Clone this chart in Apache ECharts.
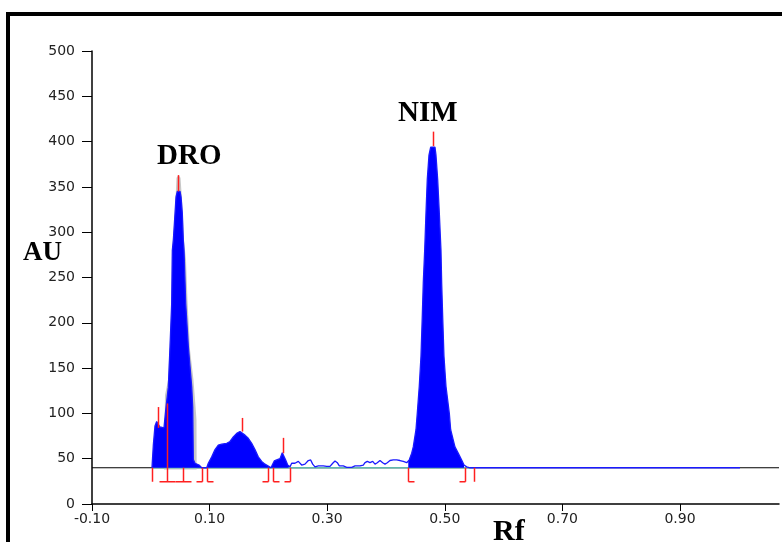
<!DOCTYPE html>
<html>
<head>
<meta charset="utf-8">
<script src="https://cdn.jsdelivr.net/npm/echarts@6/dist/echarts.min.js"></script>
<style>
  html, body { margin: 0; padding: 0; background: #fff; }
  #chart { position: absolute; left: 0; top: 0; width: 782px; height: 542px; }
  .frame { position: absolute; background: #000; }
</style>
</head>
<body>
<div id="chart"></div>
<div class="frame" style="left:6px;top:12px;width:776px;height:4px"></div>
<div class="frame" style="left:6px;top:12px;width:4px;height:530px"></div>
<script>
// densitogram trace (Rf, AU)
const traceRf = [
  0.0020, 0.0043, 0.0071, 0.0100, 0.0128, 0.0156, 0.0190, 0.0224, 0.0259, 0.0298,
  0.0327, 0.0355, 0.0366, 0.0383, 0.0412, 0.0429, 0.0451, 0.0471, 0.0497, 0.0514,
  0.0536, 0.0553, 0.0565, 0.0594, 0.0638, 0.0696, 0.0713, 0.0723, 0.0752, 0.0786,
  0.0820, 0.0866, 0.0905, 0.0951,
  0.0978, 0.1036, 0.1092, 0.1148, 0.1206, 0.1291, 0.1347, 0.1403, 0.1461, 0.1517,
  0.1546, 0.1602, 0.1658, 0.1716, 0.1772, 0.1828, 0.1886, 0.1942, 0.1998, 0.2044,
  0.2066, 0.2100, 0.2141, 0.2168, 0.2197, 0.2236, 0.2265, 0.2294, 0.2328, 0.2367,
  0.2396, 0.2452, 0.2509, 0.2566, 0.2622, 0.2679, 0.2719, 0.2753, 0.2793, 0.2849,
  0.2878, 0.2934, 0.2991, 0.3048, 0.3094, 0.3133, 0.3172, 0.3206, 0.3274, 0.3332,
  0.3417, 0.3473, 0.3558, 0.3614, 0.3643, 0.3682, 0.3728, 0.3774, 0.3813, 0.3852,
  0.3898, 0.3944, 0.3983, 0.4022, 0.4068, 0.4124, 0.4182, 0.4238, 0.4294, 0.4352,
  0.4379, 0.4396, 0.4437, 0.4464, 0.4510, 0.4532, 0.4566, 0.4595, 0.4617, 0.4634,
  0.4658, 0.4680, 0.4702, 0.4731, 0.4760, 0.4794, 0.4833, 0.4850, 0.4879, 0.4907,
  0.4935, 0.4947, 0.4964, 0.4986, 0.5020, 0.5077, 0.5100, 0.5173, 0.5230, 0.5287,
  0.5327, 0.5372, 0.5429, 1.0020
];
const traceAU = [
  40, 65, 86, 91, 88, 85, 83, 84, 107, 129,
  174, 221, 280, 291, 321, 339, 345, 346, 345, 339,
  321, 291, 280, 221, 174, 129, 107, 49, 45, 46,
  43, 40, 40, 40,
  45, 52, 60, 65, 66, 67, 69, 74, 78, 80,
  80, 76, 72.5, 67, 60, 52, 47, 44, 42, 40,
  43, 47.5, 48.6, 47, 50, 56.6, 56, 48.6, 43, 41,
  45, 45, 47, 43, 44, 48, 48.6, 44, 41, 42,
  43, 42, 41.5, 41.5, 45, 47.5, 45.6, 42, 42, 40.5,
  40.5, 42, 42, 43, 45.6, 47, 45.6, 47, 44, 45.6,
  48, 45.6, 44, 45.6, 48, 48.6, 48.6, 48, 47, 45.6,
  47, 48.6, 56, 63, 82, 100, 130, 163, 207, 244,
  280, 321, 358, 385, 394, 395, 394, 385, 358, 321,
  280, 244, 207, 163, 130, 100, 82, 63, 56, 48.6,
  43, 41, 40, 40
];

// grey shadow behind the DRO peak
const shadowRf = [0.0224, 0.0241, 0.0293, 0.0327, 0.0352, 0.0361, 0.0395, 0.0420, 0.0437, 0.0471,
                  0.0505, 0.0531, 0.0565, 0.0599, 0.0624, 0.0667, 0.0726, 0.0752, 0.0777, 0.0780];
const shadowAU = [38, 120, 137, 181, 225, 280, 308, 336, 360, 363,
                  360, 336, 291, 269, 225, 170, 137, 115, 93, 38];

// integrated windows (start, end)
const windowStart = [0.0020, 0.0951, 0.4369];
const windowEnd   = [0.0879, 0.2367, 0.5344];

// peak boundary marks: Rf and foot (-1 left, 1 right, 2 both, 0 none)
const boundRf   = [0.0026, 0.0275, 0.0542, 0.0879, 0.0951, 0.1988, 0.2073, 0.2367, 0.4369, 0.5344, 0.5497];
const boundFoot = [0, 2, 2, -1, 1, -1, 1, -1, 1, -1, 0];

// apex marks: Rf, low AU, high AU
const apexRf   = [0.0128, 0.0275, 0.0468, 0.1546, 0.2253, 0.4794];
const apexLow  = [84, 40, 345, 80, 56, 395];
const apexHigh = [107, 111, 363, 95, 73, 411];

const baselineAU = 40;
const scanStart = 0.0020, scanEnd = 0.5497;
const xMin = -0.1, xMax = 1.0684, xStep = 0.2;
const yMin = 0, yMax = 500, yStep = 50;

const chart = echarts.init(document.getElementById('chart'));

const trace = traceRf.map((r, i) => [r, traceAU[i]]);
const shadow = shadowRf.map((r, i) => [r, shadowAU[i]]);

const fillSeries = windowStart.map((s, k) => ({
  type: 'line',
  data: trace.filter(p => p[0] >= s && p[0] <= windowEnd[k]),
  symbol: 'none',
  lineStyle: { width: 0 },
  areaStyle: { color: '#0000ff', opacity: 1, origin: baselineAU },
  z: 4,
  silent: true
}));

const option = {
  animation: false,
  backgroundColor: '#fff',
  grid: { left: 92, right: 3, top: 51, bottom: 38 },
  xAxis: {
    type: 'value',
    min: xMin,
    max: xMax,
    interval: xStep,
    axisLine: { onZero: false, lineStyle: { color: '#000', width: 1.5 } },
    axisTick: { show: true, length: 7, lineStyle: { color: '#000' } },
    splitLine: { show: false },
    axisLabel: {
      showMaxLabel: false,
      margin: 8,
      color: '#222',
      fontFamily: 'DejaVu Sans',
      fontSize: 14,
      formatter: v => v.toFixed(2)
    }
  },
  yAxis: {
    type: 'value',
    min: yMin,
    max: yMax,
    interval: yStep,
    axisLine: { show: true, onZero: false, lineStyle: { color: '#000', width: 1.5 } },
    axisTick: { show: true, length: 10, lineStyle: { color: '#000' } },
    splitLine: { show: false },
    axisLabel: {
      margin: 17,
      color: '#222',
      fontFamily: 'DejaVu Sans',
      fontSize: 14
    }
  },
  graphic: [
    { type: 'text', left: 23, top: 240, style: { text: 'AU', font: 'bold 27px "Liberation Serif"', fill: '#000' } },
    { type: 'text', left: 157, top: 142, style: { text: 'DRO', font: 'bold 29px "Liberation Serif"', fill: '#000' } },
    { type: 'text', left: 398, top: 99, style: { text: 'NIM', font: 'bold 29px "Liberation Serif"', fill: '#000' } },
    { type: 'text', left: 493, top: 517, style: { text: 'Rf', font: 'bold 30px "Liberation Serif"', fill: '#000' } }
  ],
  series: [
    {
      name: 'baseline',
      type: 'line',
      data: [[xMin, baselineAU], [xMax, baselineAU]],
      symbol: 'none',
      lineStyle: { color: '#000', width: 1 },
      z: 1,
      silent: true
    },
    {
      name: 'shadow',
      type: 'line',
      data: shadow,
      symbol: 'none',
      lineStyle: { width: 0 },
      areaStyle: { color: '#c8c8c8', opacity: 1, origin: 38 },
      z: 2,
      silent: true
    },
    {
      name: 'scan baseline',
      type: 'line',
      data: [[scanStart, baselineAU], [scanEnd, baselineAU]],
      symbol: 'none',
      lineStyle: { color: '#5fb8ae', width: 1.5 },
      z: 3,
      silent: true
    },
    ...fillSeries,
    {
      name: 'trace',
      type: 'line',
      data: trace,
      symbol: 'none',
      lineStyle: { color: '#1a1aff', width: 1.3 },
      z: 5,
      silent: true
    },
    {
      name: 'apex',
      type: 'custom',
      data: apexRf.map((r, i) => [r, apexLow[i], apexHigh[i]]),
      z: 6,
      renderItem: (params, api) => {
        const a = api.coord([api.value(0), api.value(1)]);
        const b = api.coord([api.value(0), api.value(2)]);
        const x = Math.round(a[0]) + 0.5;
        return {
          type: 'line',
          shape: { x1: x, y1: a[1], x2: x, y2: b[1] },
          style: { stroke: '#ff2020', lineWidth: 1.5 }
        };
      }
    },
    {
      name: 'bounds',
      type: 'custom',
      data: boundRf.map((r, i) => [r, boundFoot[i]]),
      z: 6,
      renderItem: (params, api) => {
        const p = api.coord([api.value(0), baselineAU]);
        const foot = api.value(1);
        const x = Math.round(p[0]) + 0.5;
        const y0 = p[1], y1 = p[1] + 14;
        const st = { stroke: '#ff2020', lineWidth: 1.5, fill: null };
        const kids = [{ type: 'line', shape: { x1: x, y1: y0, x2: x, y2: y1 }, style: st }];
        if (foot === -1) kids.push({ type: 'line', shape: { x1: x - 6, y1: y1, x2: x, y2: y1 }, style: st });
        if (foot === 1) kids.push({ type: 'line', shape: { x1: x, y1: y1, x2: x + 6, y2: y1 }, style: st });
        if (foot === 2) kids.push({ type: 'line', shape: { x1: x - 8, y1: y1, x2: x + 8, y2: y1 }, style: st });
        return { type: 'group', children: kids };
      }
    }
  ]
};

chart.setOption(option);
</script>
</body>
</html>
